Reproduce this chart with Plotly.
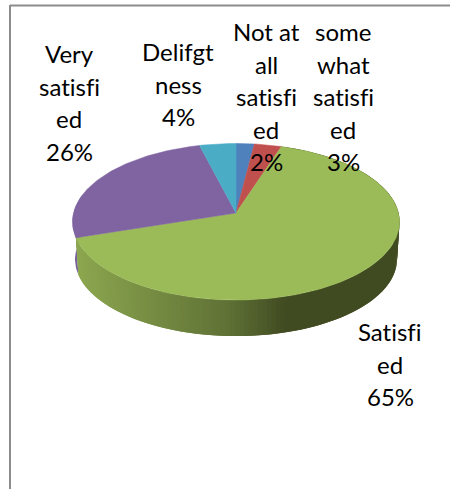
import numpy as np
import plotly.graph_objects as go

# Survey responses
categories = ["Not at all satisfied", "some what satisfied", "Satisfied", "Very satisfied", "Delifgtness"]
values = [2, 3, 65, 26, 4]
label_lines = [
    ["Not at", "all", "satisfi", "ed", "2%"],
    ["some", "what", "satisfi", "ed", "3%"],
    ["Satisfi", "ed", "65%"],
    ["Very", "satisfi", "ed", "26%"],
    ["Delifgt", "ness", "4%"],
]
label_anchors = [(266, 31.5), (343, 31.5), (390, 331.5), (69, 53.5), (178, 51.5)]
top_colors = ["#4f81bd", "#c0504d", "#9bbb59", "#8064a2", "#4bacc6"]
PURPLE_WALL = "#77609b"

# Projection of the tilted disc onto the page
CX, CY = 236.0, 213.0
RX, RY, K = 162.5, 77.3, 0.112
BASE_CY, BASE_RX, BASE_RY = 250.5, 160.0, 76.0
LINE_STEP = 32.5


def rim(theta, cy=CY, rx=RX, ry=RY):
    s, c = np.sin(theta), np.cos(theta)
    w = 1 + K * c
    return CX + rx * s / w, cy - ry * c / w


def shade(x):
    # Horizontal light falloff across the front wall
    xs = [75, 230, 290, 400]
    rgb = np.array([[0x8d, 0xa8, 0x50], [0x60, 0x72, 0x36], [0x40, 0x4b, 0x21], [0x40, 0x4b, 0x21]])
    return "rgb({},{},{})".format(*[int(np.interp(x, xs, rgb[:, i])) for i in range(3)])


fig = go.Figure()
edges = np.cumsum([0] + values) / sum(values) * 2 * np.pi

# Outer wall of the purple slice, visible on the far left
t = np.linspace(edges[3], 1.5 * np.pi + 0.25, 30)
x1, y1 = rim(t)
x2, y2 = rim(t[::-1], BASE_CY, BASE_RX, BASE_RY)
fig.add_trace(go.Scatter(x=np.r_[x1, x2], y=np.r_[y1, y2], mode="lines", fill="toself",
                         fillcolor=PURPLE_WALL, line=dict(width=0), hoverinfo="skip"))

# Outer wall of the large slice: overlapping strips running right to left,
# each one painted over its neighbour so no seams show
t = np.linspace(edges[2], edges[3], 161)
for j in range(len(t) - 1):
    seg = t[j:j + 3]
    x1, y1 = rim(seg)
    x2, y2 = rim(seg[::-1], BASE_CY, BASE_RX, BASE_RY)
    col = shade(x1[0])
    fig.add_trace(go.Scatter(x=np.r_[x1, x2], y=np.r_[y1, y2], mode="lines", fill="toself",
                             fillcolor=col, line=dict(width=0), hoverinfo="skip"))

# Top faces of the slices
for i, name in enumerate(categories):
    t = np.linspace(edges[i], edges[i + 1], max(8, values[i] * 3))
    x, y = rim(t)
    fig.add_trace(go.Scatter(x=np.r_[CX, x, CX], y=np.r_[CY, y, CY], mode="lines", fill="toself",
                             fillcolor=top_colors[i], line=dict(width=0.5, color=top_colors[i]),
                             name=name, text=f"{name}: {values[i]}%", hoverinfo="text"))

# Data labels, one annotation per wrapped row for an even row spacing
for lines, (lx, ly) in zip(label_lines, label_anchors):
    for row, line in enumerate(lines):
        fig.add_annotation(x=lx, y=ly + row * LINE_STEP, text=line, showarrow=False,
                           font=dict(family="Lato, Carlito, sans-serif", size=24, color="#000000"))

# Chart frame: only the top and left edges fall inside the page
fig.add_shape(type="line", x0=10, y0=5.5, x1=450, y1=5.5, line=dict(color="#8c8c8c", width=2))
fig.add_shape(type="line", x0=10, y0=5, x1=10, y1=489, line=dict(color="#8c8c8c", width=2))

fig.update_layout(
    width=450, height=489, margin=dict(l=0, r=0, t=0, b=0), showlegend=False,
    paper_bgcolor="white", plot_bgcolor="white",
    xaxis=dict(range=[0, 450], visible=False, fixedrange=True),
    yaxis=dict(range=[489, 0], visible=False, fixedrange=True),
)

# Keep "fi" as two separate letters in the labels
no_ligatures = ("var s=document.createElement('style');"
                "s.textContent='svg text{font-variant-ligatures:none !important;"
                "font-feature-settings:\"liga\" 0 !important;}';"
                "document.head.appendChild(s);")
fig.write_html("out.html", post_script=no_ligatures)
